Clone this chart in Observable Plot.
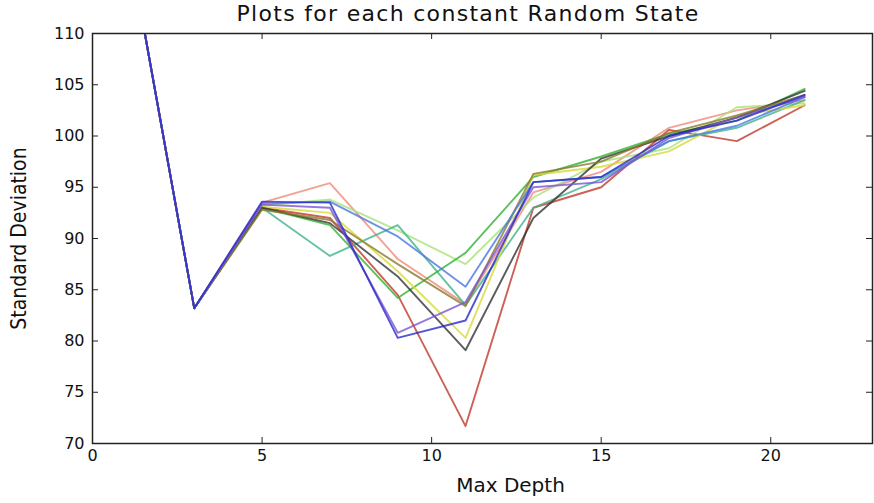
<!DOCTYPE html>
<html>
<head>
<meta charset="utf-8">
<script src="https://cdn.jsdelivr.net/npm/d3@7"></script>
<script src="https://cdn.jsdelivr.net/npm/@observablehq/plot@0.6"></script>
<style>
  html, body { margin: 0; padding: 0; background: #fff; }
  #wrap { position: relative; width: 874px; height: 503px; }
  #title { position: absolute; top: 0px; left: 168px; width: 600px; text-align: center;
           font-family: "DejaVu Sans", sans-serif; font-size: 22px; letter-spacing: 1.3px; color: #111; line-height: 28px; }
</style>
</head>
<body>
<div id="wrap">
  <div id="chart"></div>
  <div id="title">Plots for each constant Random State</div>
</div>
<script>
const depths = [1, 3, 5, 7, 9, 11, 13, 15, 17, 19, 21];

const seriesNames = ["s3", "s4", "s5", "s6", "s7", "s8", "s9", "s10", "s11", "s2", "s1"];
const seriesColors = ["#c0392b", "#f08a78", "#a8e27a", "#3db38c", "#33b033", "#d8d83a", "#333333", "#8a7a2a", "#4a78e0", "#7a55d8", "#2a2ac8"];

const s3  = [120, 83.2, 93.0, 92.0, 84.5, 71.7, 93.0, 95.0, 100.6, 99.5, 103.0];
const s4  = [120, 83.2, 93.5, 95.4, 88.0, 83.6, 94.5, 96.5, 100.8, 102.5, 103.5];
const s5  = [120, 83.2, 93.2, 93.8, 90.8, 87.5, 94.0, 97.5, 98.8, 102.8, 103.2];
const s6  = [120, 83.2, 93.0, 88.3, 91.3, 83.5, 93.0, 95.8, 99.5, 100.8, 103.5];
const s7  = [120, 83.2, 93.0, 91.3, 84.2, 88.6, 96.0, 98.0, 100.2, 101.5, 104.6];
const s8  = [120, 83.2, 93.1, 92.5, 86.8, 80.3, 96.2, 97.0, 98.5, 102.0, 103.0];
const s9  = [120, 83.2, 93.0, 91.5, 86.3, 79.1, 92.0, 97.8, 100.0, 101.8, 104.4];
const s10 = [120, 83.2, 92.8, 91.8, 87.5, 83.4, 96.3, 97.5, 100.3, 102.0, 104.0];
const s11 = [120, 83.2, 93.4, 93.6, 90.2, 85.3, 95.5, 96.0, 99.5, 101.0, 103.8];
const s2  = [120, 83.2, 93.3, 93.0, 80.8, 83.8, 95.0, 95.5, 99.8, 101.8, 103.8];
const s1  = [120, 83.2, 93.6, 93.5, 80.3, 82.0, 95.5, 96.0, 100.0, 101.5, 104.0];

const seriesValues = [s3, s4, s5, s6, s7, s8, s9, s10, s11, s2, s1];

const xTicks = [0, 5, 10, 15, 20];
const yTicks = [70, 75, 80, 85, 90, 95, 100, 105, 110];

const data = seriesValues.flatMap((vals, i) =>
  vals.map((v, j) => ({ name: seriesNames[i], color: seriesColors[i], depth: depths[j], sd: v })));

const W = 874, H = 503, ML = 92, MR = 2, MT = 33, MB = 60;
const fw = W - ML - MR, fh = H - MT - MB;

const chart = Plot.plot({
  width: W, height: H,
  marginLeft: ML, marginRight: MR, marginTop: MT, marginBottom: MB,
  style: { fontFamily: "DejaVu Sans, sans-serif", fontSize: "15px", color: "#111", background: "#fff" },
  x: { domain: [0, 23], label: null },
  y: { domain: [70, 110], label: null },
  color: { type: "identity" },
  marks: [
    Plot.line(data, { x: "depth", y: "sd", z: "name", stroke: "color", strokeWidth: 1.9, strokeOpacity: 0.8, clip: true }),
    Plot.frame({ stroke: "#222", strokeWidth: 1.5 }),
    Plot.tickX(xTicks, { x: d => d, insetTop: fh - 6, stroke: "#222" }),
    Plot.tickX(xTicks, { x: d => d, insetBottom: fh - 6, stroke: "#222" }),
    Plot.tickY(yTicks, { y: d => d, insetRight: fw - 6, stroke: "#222" }),
    Plot.tickY(yTicks, { y: d => d, insetLeft: fw - 6, stroke: "#222" }),
    Plot.axisX({ ticks: xTicks, tickSize: 0, tickPadding: 6, label: null, fontSize: 16, fill: "#111", fontWeight: 500 }),
    Plot.axisY({ ticks: yTicks, tickSize: 0, tickPadding: 8, label: null, fontSize: 16, fill: "#111", fontWeight: 500 }),
    Plot.text(["Max Depth"], { frameAnchor: "bottom", dx: 28, dy: 48, text: d => d, fontSize: 20, fill: "#111", letterSpacing: 1 }),
    Plot.text(["Standard Deviation"], { frameAnchor: "left", textAnchor: "middle", dx: -73, dy: 0, rotate: -90, text: d => d, fontSize: 21,
      fontFamily: "Liberation Sans Narrow, DejaVu Sans Condensed, sans-serif", fill: "#111" })
  ]
});
document.getElementById("chart").appendChild(chart);
</script>
</body>
</html>
